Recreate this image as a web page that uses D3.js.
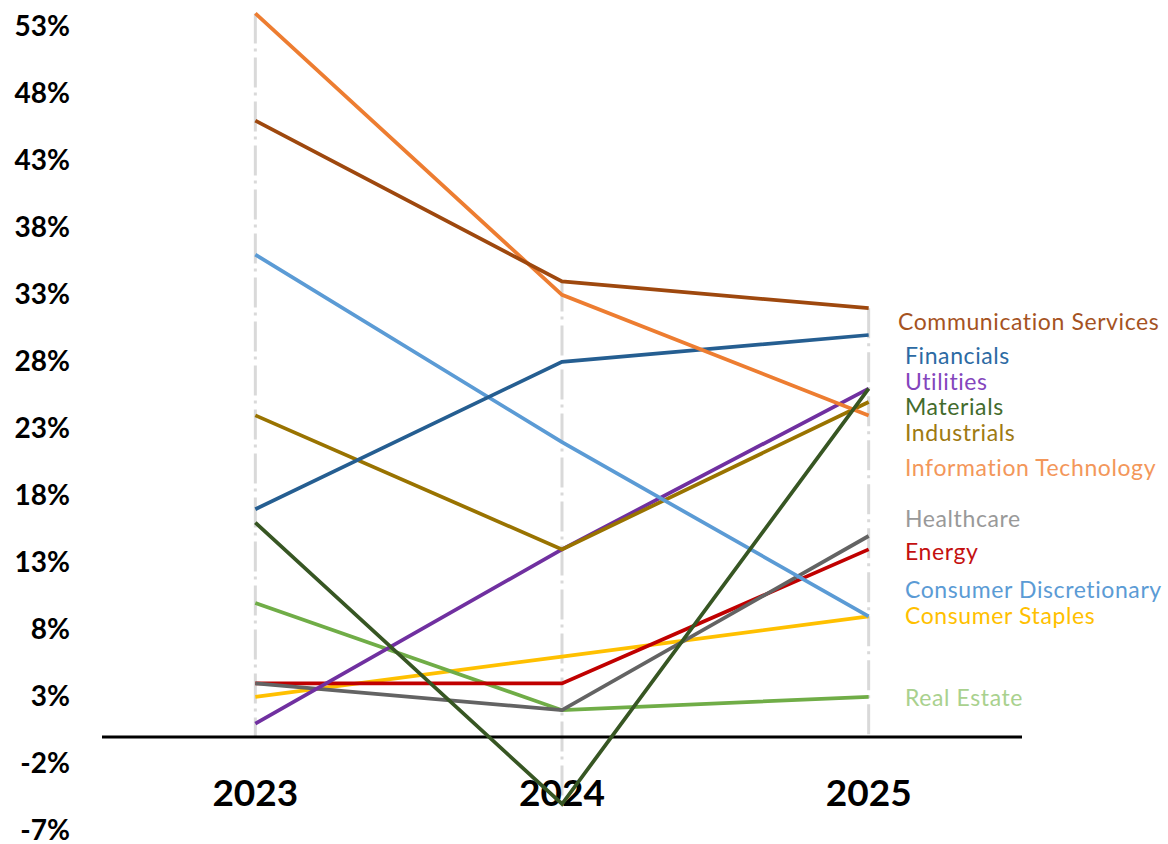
<!DOCTYPE html>
<html>
<head>
<meta charset="utf-8">
<script src="https://cdn.jsdelivr.net/npm/d3@7/dist/d3.min.js"></script>
<style>
  html, body { margin: 0; padding: 0; background: #fff; }
  svg { display: block; }
</style>
</head>
<body>
<svg id="chart" width="1168" height="844"></svg>
<script>
// Years on the category axis
const years = ["2023", "2024", "2025"];

// Sector names
const sectors = [
  "Communication Services", "Financials", "Utilities", "Materials", "Industrials",
  "Information Technology", "Healthcare", "Energy", "Consumer Discretionary",
  "Consumer Staples", "Real Estate"
];

// Yearly returns per sector (%), same order as years
const commServices = [46, 34, 32];
const financials   = [17, 28, 30];
const utilities    = [1, 14, 26];
const materials    = [16, -5, 26];
const industrials  = [24, 14, 25];
const infoTech     = [54, 33, 24];
const healthcare   = [4, 2, 15];
const energy       = [4, 4, 14];
const consDisc     = [36, 22, 9];
const consStaples  = [3, 6, 9];
const realEstate   = [10, 2, 3];

// Value-axis tick labels
const tickValues = [53, 48, 43, 38, 33, 28, 23, 18, 13, 8, 3, -2, -7];

const seriesValues = [
  commServices, financials, utilities, materials, industrials,
  infoTech, healthcare, energy, consDisc, consStaples, realEstate
];

// Styling: line colour and label colour per sector
const lineColors = {
  "Communication Services": "#9E480E",
  "Financials": "#255E91",
  "Utilities": "#7030A0",
  "Materials": "#375623",
  "Industrials": "#997300",
  "Information Technology": "#ED7D31",
  "Healthcare": "#636363",
  "Energy": "#C00000",
  "Consumer Discretionary": "#5B9BD5",
  "Consumer Staples": "#FFC000",
  "Real Estate": "#70AD47"
};
const labelColors = {
  "Communication Services": "#A5531F",
  "Financials": "#2C6AA3",
  "Utilities": "#8446BD",
  "Materials": "#436B2C",
  "Industrials": "#9E7A12",
  "Information Technology": "#F3975A",
  "Healthcare": "#999999",
  "Energy": "#C41010",
  "Consumer Discretionary": "#5B9BD5",
  "Consumer Staples": "#FFC000",
  "Real Estate": "#A9D18E"
};
// Label placement on the value scale (spread apart so they do not collide)
const labelAt = {
  "Communication Services": 31.0,
  "Financials": 28.4,
  "Utilities": 26.5,
  "Materials": 24.65,
  "Industrials": 22.7,
  "Information Technology": 20.1,
  "Healthcare": 16.3,
  "Energy": 13.8,
  "Consumer Discretionary": 11.0,
  "Consumer Staples": 9.0,
  "Real Estate": 2.9
};

// Drawing order (later series on top)
const drawOrder = [
  "Consumer Staples", "Real Estate", "Energy", "Healthcare", "Utilities", "Industrials",
  "Consumer Discretionary", "Financials", "Information Technology",
  "Communication Services", "Materials"
];

const series = sectors.map((name, i) => ({
  name,
  values: years.map((yr, j) => ({ year: yr, value: seriesValues[i][j] }))
}));

const svg = d3.select("#chart");

const x = d3.scaleBand().domain(years).range([102, 1022]);
const cx = d => x(d) + x.bandwidth() / 2;
const y = d3.scaleLinear().domain([-7, 53]).range([830.8, 26.8]);

// Drop lines per year, from the highest point down to the lowest (or the axis)
const dropG = svg.append("g");
years.forEach((yr, j) => {
  const vals = seriesValues.map(s => s[j]);
  const hi = Math.max(0, d3.max(vals));
  const lo = Math.min(0, d3.min(vals));
  dropG.append("line")
    .attr("x1", cx(yr)).attr("x2", cx(yr))
    .attr("y1", y(hi)).attr("y2", y(lo))
    .attr("stroke", "#D9D9D9")
    .attr("stroke-width", 3)
    .attr("stroke-dasharray", "30,5,3,6");
});

// Horizontal category axis line at zero
svg.append("line")
  .attr("x1", 102).attr("x2", 1022)
  .attr("y1", y(0)).attr("y2", y(0))
  .attr("stroke", "#000").attr("stroke-width", 3);

// Value axis tick labels
const yAxis = d3.axisLeft(y)
  .tickValues(tickValues)
  .tickFormat(d => d + "%")
  .tickSize(0)
  .tickPadding(0);
const yAxisG = svg.append("g")
  .attr("transform", "translate(70,0)")
  .call(yAxis);
yAxisG.select(".domain").remove();
yAxisG.selectAll("text")
  .attr("font-family", "Lato, 'Open Sans', sans-serif")
  .attr("font-weight", "bold")
  .attr("font-size", 28)
  .attr("fill", "#000");

// Year labels below the chart
const xAxis = d3.axisBottom(x).tickSize(0).tickPadding(0);
const xAxisG = svg.append("g")
  .attr("transform", "translate(0,780)")
  .call(xAxis);
xAxisG.select(".domain").remove();
xAxisG.selectAll("text")
  .attr("font-family", "Lato, 'Open Sans', sans-serif")
  .attr("font-weight", "bold")
  .attr("font-size", 37)
  .attr("fill", "#000");

// Sector lines
const line = d3.line().x(d => cx(d.year)).y(d => y(d.value));
svg.append("g")
  .selectAll("path")
  .data(drawOrder.map(n => series.find(s => s.name === n)))
  .join("path")
  .attr("d", d => line(d.values))
  .attr("fill", "none")
  .attr("stroke", d => lineColors[d.name])
  .attr("stroke-width", 3.75)
  .attr("stroke-linejoin", "miter")
  .attr("stroke-linecap", "butt");

// Sector labels to the right of the last year
svg.append("g")
  .selectAll("text")
  .data(sectors)
  .join("text")
  .attr("x", d => d === "Communication Services" ? 898 : 905)
  .attr("y", d => y(labelAt[d]))
  .attr("dy", "0.35em")
  .attr("font-family", "Lato, 'Open Sans', sans-serif")
  .attr("font-size", 23)
  .attr("letter-spacing", 0.6)
  .attr("fill", d => labelColors[d])
  .text(d => d);
</script>
</body>
</html>
